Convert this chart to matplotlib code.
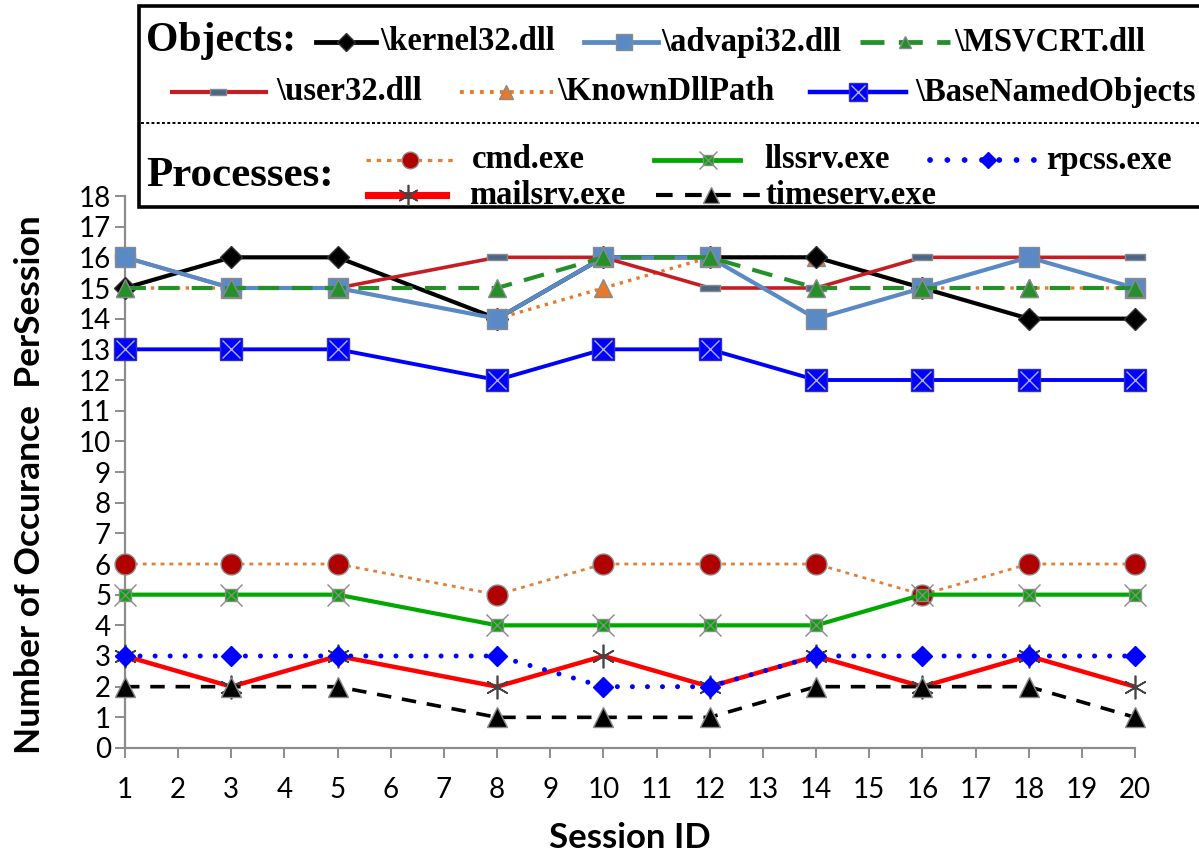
import matplotlib
matplotlib.use("Agg")
import matplotlib.pyplot as plt
from matplotlib.lines import Line2D
from matplotlib.patches import Rectangle
from matplotlib.path import Path

# ---------------- data ----------------
sessions = [1, 3, 5, 8, 10, 12, 14, 16, 18, 20]
x_ticks = [1, 2, 3, 4, 5, 6, 7, 8, 9, 10, 11, 12, 13, 14, 15, 16, 17, 18, 19, 20]
y_ticks = [0, 1, 2, 3, 4, 5, 6, 7, 8, 9, 10, 11, 12, 13, 14, 15, 16, 17, 18]

kernel32 = [15, 16, 16, 14, 16, 16, 16, 15, 14, 14]
advapi32 = [16, 15, 15, 14, 16, 16, 14, 15, 16, 15]
msvcrt = [15, 15, 15, 15, 16, 16, 15, 15, 15, 15]
user32 = [16, 15, 15, 16, 16, 15, 15, 16, 16, 16]
known_dll_path = [15, 15, 15, 14, 15, 16, 16, 15, 15, 15]
base_named_objects = [13, 13, 13, 12, 13, 13, 12, 12, 12, 12]

cmd_exe = [6, 6, 6, 5, 6, 6, 6, 5, 6, 6]
llssrv_exe = [5, 5, 5, 4, 4, 4, 4, 5, 5, 5]
rpcss_exe = [3, 3, 3, 3, 2, 2, 3, 3, 3, 3]
mailsrv_exe = [3, 2, 3, 2, 3, 2, 3, 2, 3, 2]
timeserv_exe = [2, 2, 2, 1, 1, 1, 2, 2, 2, 1]

object_labels = ["\\kernel32.dll", "\\advapi32.dll", "\\MSVCRT.dll",
                 "\\user32.dll", "\\KnownDllPath", "\\BaseNamedObjects"]
process_labels = ["cmd.exe", "llssrv.exe", "rpcss.exe", "mailsrv.exe", "timeserv.exe"]
x_title = "Session ID"
y_title = "Number of Occurance  PerSession"

# ---------------- styles ----------------
W, H = 1199, 856
GRAY = "#8a8a8a"
rect_marker = Path([(-1, -0.32), (1, -0.32), (1, 0.32), (-1, 0.32), (-1, -0.32)],
                   [Path.MOVETO, Path.LINETO, Path.LINETO, Path.LINETO, Path.CLOSEPOLY])

styles = {
    "known": dict(color="#E8792A", lw=2.4, ls=(0, (1.0, 1.6)), marker="^", ms=13,
                  mfc="#E8792A", mec=GRAY, mew=1),
    "kernel": dict(color="black", lw=3.0, ls="-", marker="D", ms=11,
                   mfc="black", mec="#333333", mew=1),
    "user32": dict(color="#C41E24", lw=2.6, ls="-", marker=rect_marker, ms=15,
                   mfc="#4A6585", mec=GRAY, mew=1),
    "advapi": dict(color="#5A8AC6", lw=3.0, ls="-", marker="s", ms=14,
                   mfc="#5A8AC6", mec=GRAY, mew=1),
    "msvcrt": dict(color="#25902A", lw=3.0, ls=(0, (5, 3)), marker="^", ms=13,
                   mfc="#25902A", mec=GRAY, mew=1),
    "base": dict(color="#0000FF", lw=2.8, ls="-", marker="s", ms=16,
                 mfc="#0000FF", mec="#3030C0", mew=1),
    "cmd": dict(color="#E0803A", lw=2.0, ls=(0, (1.4, 1.8)), marker="o", ms=15,
                mfc="#B00000", mec=GRAY, mew=1),
    "llssrv": dict(color="#00A800", lw=3.0, ls="-", marker="s", ms=9,
                   mfc="#00A800", mec=GRAY, mew=1),
    "mailsrv": dict(color="#FF0000", lw=3.2, ls="-", marker=(6, 2, 0), ms=17,
                    mfc="#444444", mec="#444444", mew=1.2),
    "timeserv": dict(color="black", lw=2.6, ls=(0, (4, 3)), marker="^", ms=14,
                     mfc="black", mec=GRAY, mew=1),
    "rpcss": dict(color="#0000FF", lw=3.6, ls=(0, (0.01, 3.0)), marker="D", ms=10,
                  mfc="#0000FF", mec="#0000FF", mew=1),
}

plt.rcParams["font.family"] = ["Lato", "DejaVu Sans"]

fig = plt.figure(figsize=(W / 100, H / 100), dpi=100)
fig.patch.set_facecolor("white")

ax_l, ax_r, ax_top, ax_bot = 125, 1135, 196, 748
ax = fig.add_axes([ax_l / W, 1 - ax_bot / H, (ax_r - ax_l) / W, (ax_bot - ax_top) / H])


def draw(y, key, z):
    st = styles[key]
    line, = ax.plot(sessions, y, color=st["color"], lw=st["lw"], linestyle=st["ls"],
                    marker=st["marker"], markersize=st["ms"], markerfacecolor=st["mfc"],
                    markeredgecolor=st["mec"], markeredgewidth=st["mew"],
                    zorder=z, clip_on=False, solid_capstyle="butt",
                    dash_capstyle="round" if key == "rpcss" else "butt")
    return line


draw(known_dll_path, "known", 3)
draw(kernel32, "kernel", 4)
draw(user32, "user32", 5)
draw(advapi32, "advapi", 6)
draw(msvcrt, "msvcrt", 7)
draw(base_named_objects, "base", 8)
ax.plot(sessions, base_named_objects, ls="none", marker="x", ms=13, mec="#B0B0E8",
        mew=1.0, zorder=8.5, clip_on=False)
draw(cmd_exe, "cmd", 9)
draw(llssrv_exe, "llssrv", 10)
ax.plot(sessions, llssrv_exe, ls="none", marker="x", ms=16, mec=GRAY,
        mew=1.0, zorder=10.5, clip_on=False)
draw(mailsrv_exe, "mailsrv", 11)
draw(timeserv_exe, "timeserv", 12)
draw(rpcss_exe, "rpcss", 13)

ax.set_xlim(1, 20)
ax.set_ylim(0, 18)
ax.set_xticks(x_ticks)
ax.set_yticks(y_ticks)
ax.set_xticklabels([str(v) for v in x_ticks])
ax.set_yticklabels([str(v) for v in y_ticks])
for s in ["top", "right"]:
    ax.spines[s].set_visible(False)
for s in ["left", "bottom"]:
    ax.spines[s].set_color("#8c8c8c")
    ax.spines[s].set_linewidth(1.6)
ax.tick_params(axis="both", direction="out", length=7, width=1.4, color="#8c8c8c",
               labelsize=20, labelcolor="black")
ax.tick_params(axis="x", pad=14)
ax.tick_params(axis="y", pad=3)
ax.set_facecolor("white")

fig.text(630 / W, 1 - 838 / H, x_title, ha="center", va="center",
         fontsize=25, fontweight="bold", family=["Lato", "DejaVu Sans"])
fig.text(30 / W, 1 - 485 / H, y_title, ha="center", va="center", rotation=90,
         fontsize=25.5, fontweight="bold", family=["Lato", "DejaVu Sans"])

# ---------------- legend box (manual) ----------------
def fx(px):
    return px / W


def fy(py):
    return 1 - py / H


box = Rectangle((fx(139), fy(207)), fx(1250) - fx(139), fy(6) - fy(207),
                transform=fig.transFigure, facecolor="white", edgecolor="black",
                lw=2.6, zorder=20, clip_on=False)
fig.add_artist(box)
fig.add_artist(Line2D([fx(141), fx(1199)], [fy(123), fy(123)], transform=fig.transFigure,
                      color="black", lw=1.4, ls=(0, (1.5, 1.2)), zorder=21))

SERIF = ["Liberation Serif", "DejaVu Serif"]
fig.text(fx(146), fy(41), "Objects:", ha="left", va="center", fontsize=30,
         fontweight="bold", family=SERIF, zorder=22)
fig.text(fx(146), fy(176), "Processes:", ha="left", va="center", fontsize=31,
         fontweight="bold", family=SERIF, zorder=22)


def handle(key, x0, x1, xm, y, label, lx, overlay=None, msc=0.8):
    st = styles[key]
    fig.add_artist(Line2D([fx(x0), fx(x1)], [fy(y), fy(y)], transform=fig.transFigure,
                          color=st["color"], lw=st["lw"] * (1.6 if key == "mailsrv" else 1.15),
                          linestyle=st["ls"], zorder=22,
                          dash_capstyle="round" if key == "rpcss" else "butt"))
    fig.add_artist(Line2D([fx(xm)], [fy(y)], transform=fig.transFigure, ls="none",
                          marker=st["marker"], markersize=st["ms"] * msc,
                          markerfacecolor=st["mfc"], markeredgecolor=st["mec"],
                          markeredgewidth=st["mew"], zorder=23))
    if overlay is not None:
        fig.add_artist(Line2D([fx(xm)], [fy(y)], transform=fig.transFigure, ls="none",
                              marker="x", markersize=overlay[0], markeredgecolor=overlay[1],
                              markeredgewidth=1.0, zorder=24))
    fig.text(fx(lx), fy(y), label, ha="left", va="center", fontsize=23.5,
             fontweight="bold", family=SERIF, zorder=22)


r1, r2, r3, r4 = 42, 92, 160, 195
handle("kernel", 316, 376, 346, r1, object_labels[0], 380)
handle("advapi", 584, 658, 624, r1, object_labels[1], 661)
handle("msvcrt", 860, 950, 905, r1, object_labels[2], 954, msc=0.65)
handle("user32", 172, 266, 218, r2, object_labels[3], 276)
handle("known", 460, 553, 506, r2, object_labels[4], 557)
handle("base", 810, 906, 858, r2, object_labels[5], 915, overlay=(10, "#B0B0E8"))
handle("cmd", 366, 455, 410, r3, process_labels[0], 472)
handle("llssrv", 654, 740, 708, r3, process_labels[1], 764, overlay=(13, GRAY))
handle("rpcss", 930, 1040, 988, r3, process_labels[2], 1046)
handle("mailsrv", 368, 446, 408, r4, process_labels[3], 469, msc=0.9)
handle("timeserv", 656, 760, 711, r4, process_labels[4], 766)

fig.savefig("out.png", dpi=100, facecolor="white")
